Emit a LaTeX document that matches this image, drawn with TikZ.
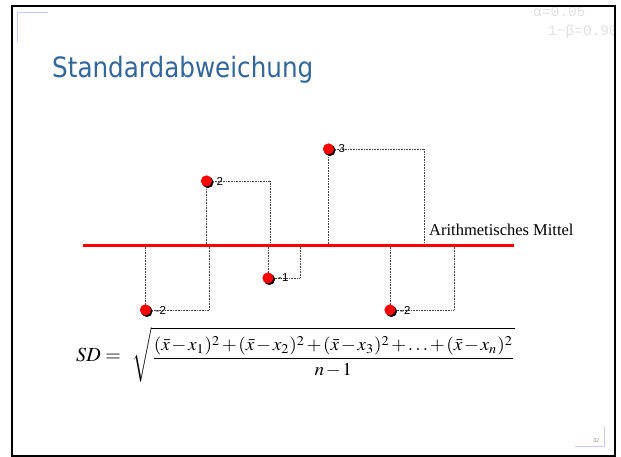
\documentclass[tikz,border=0pt]{standalone}
\usepackage{mathptmx}
\usepackage[no-math]{fontspec}
\setmainfont{Liberation Serif}
\newfontfamily\titlefont[FakeStretch=0.88]{DejaVu Sans}
\newfontfamily\labelfont{Liberation Sans}
\newfontfamily\headfont{Liberation Mono}
\usetikzlibrary{calc}
\definecolor{titleblue}{RGB}{51,102,153}
\definecolor{cornerblue}{RGB}{200,200,255}
\definecolor{faintgray}{RGB}{226,226,226}
\tikzset{
  datapoint/.style={circle, fill=red, minimum size=11pt, inner sep=0pt,
    preaction={fill=black, transform canvas={xshift=1.4pt, yshift=-1.4pt}}},
  pointlabel/.style={anchor=west, inner sep=0pt, xshift=10pt,
    font=\labelfont\fontsize{11.5}{12}\selectfont},
  guide/.style={line width=0.6pt, draw=black!75, dash pattern=on 0.8pt off 0.8pt},
  meanline/.style={line width=2.5pt, draw=red},
  corner/.style={line width=0.9pt, draw=cornerblue}
}
\begin{document}
\begin{tikzpicture}[x=1pt, y=-1pt]
\useasboundingbox (0,0) rectangle (621,457);
\fill[white] (0,0) rectangle (621,457);

% faint header figures, clipped by the slide frame
\begin{scope}
  \clip (13.4,7.2) rectangle (613.5,455);
  \node[anchor=base west, inner sep=0pt, text=faintgray,
        font=\headfont\fontsize{14.5}{16}\selectfont] (alpha) at (533,17) {α=0.05};
  \node[anchor=base west, inner sep=0pt, text=faintgray,
        font=\headfont\fontsize{14.5}{16}\selectfont] (power) at (548,36) {1−β=0.90};
\end{scope}

% slide frame and corner marks
\draw[line width=2.3pt] (12.2,6) rectangle (614.7,456);
\draw[corner] (48,12.5) -- (17,12.5) -- (17,42);
\draw[corner] (604.7,427) -- (604.7,446) -- (575,446);

% title
\node[anchor=base west, inner sep=0pt, text=titleblue,
      font=\titlefont\fontsize{28}{30}\selectfont] (title) at (52,77.5) {Standardabweichung};

% data points
\node[datapoint] (p1) at (145.5,310) {};
\node[datapoint] (p2) at (206.5,181) {};
\node[datapoint] (p3) at (268,278) {};
\node[datapoint] (p4) at (328.5,149) {};
\node[datapoint] (p5) at (390,310) {};

% squared deviations (32 units per point of deviation)
\coordinate (c1) at (209.5,245.5);
\coordinate (c2) at (270.5,245.5);
\coordinate (c3) at (300,245.5);
\coordinate (c4) at (424.5,245.5);
\coordinate (c5) at (454,245.5);
\foreach \i in {1,...,5}{\draw[guide] (p\i.center) rectangle (c\i);}

% mean line
\coordinate (mstart) at (83,245.5);
\coordinate (mend) at (514,245.5);
\draw[meanline] (mstart) -- (mend);
\node[anchor=base west, inner sep=0pt, font=\fontsize{16.5}{18}\selectfont]
  (mean) at (429,236) {Arithmetisches Mittel};

% redraw points above the guides
\foreach \i/\x/\y in {1/145.5/310,2/206.5/181,3/268/278,4/328.5/149,5/390/310}{
  \node[datapoint] at (\x,\y) {};}
\node[pointlabel] at (p1) {-2};
\node[pointlabel] at (p2) {2};
\node[pointlabel] at (p3) {-1};
\node[pointlabel] at (p4) {3};
\node[pointlabel] at (p5) {-2};

% formula: left-hand side and the root
\node[anchor=north west, inner sep=0pt] (root) at (132,327)
  {\resizebox*{383pt}{55pt}{\medmuskip=1.5mu\thickmuskip=2.5mu$\displaystyle\sqrt{\frac{(\bar{x}-x_1)^2+(\bar{x}-x_2)^2+(\bar{x}-x_3)^2+\ldots+(\bar{x}-x_n)^2}{n-1}}$}};
\node[anchor=base east, inner sep=0pt, font=\fontsize{20}{22}\selectfont]
  (sd) at (121,361) {$SD=$};

% page number
\node[anchor=base east, inner sep=0pt, text=black!45,
      font=\labelfont\fontsize{5.5}{6}\selectfont] (page) at (599.5,442.7) {32};
\end{tikzpicture}
\end{document}
